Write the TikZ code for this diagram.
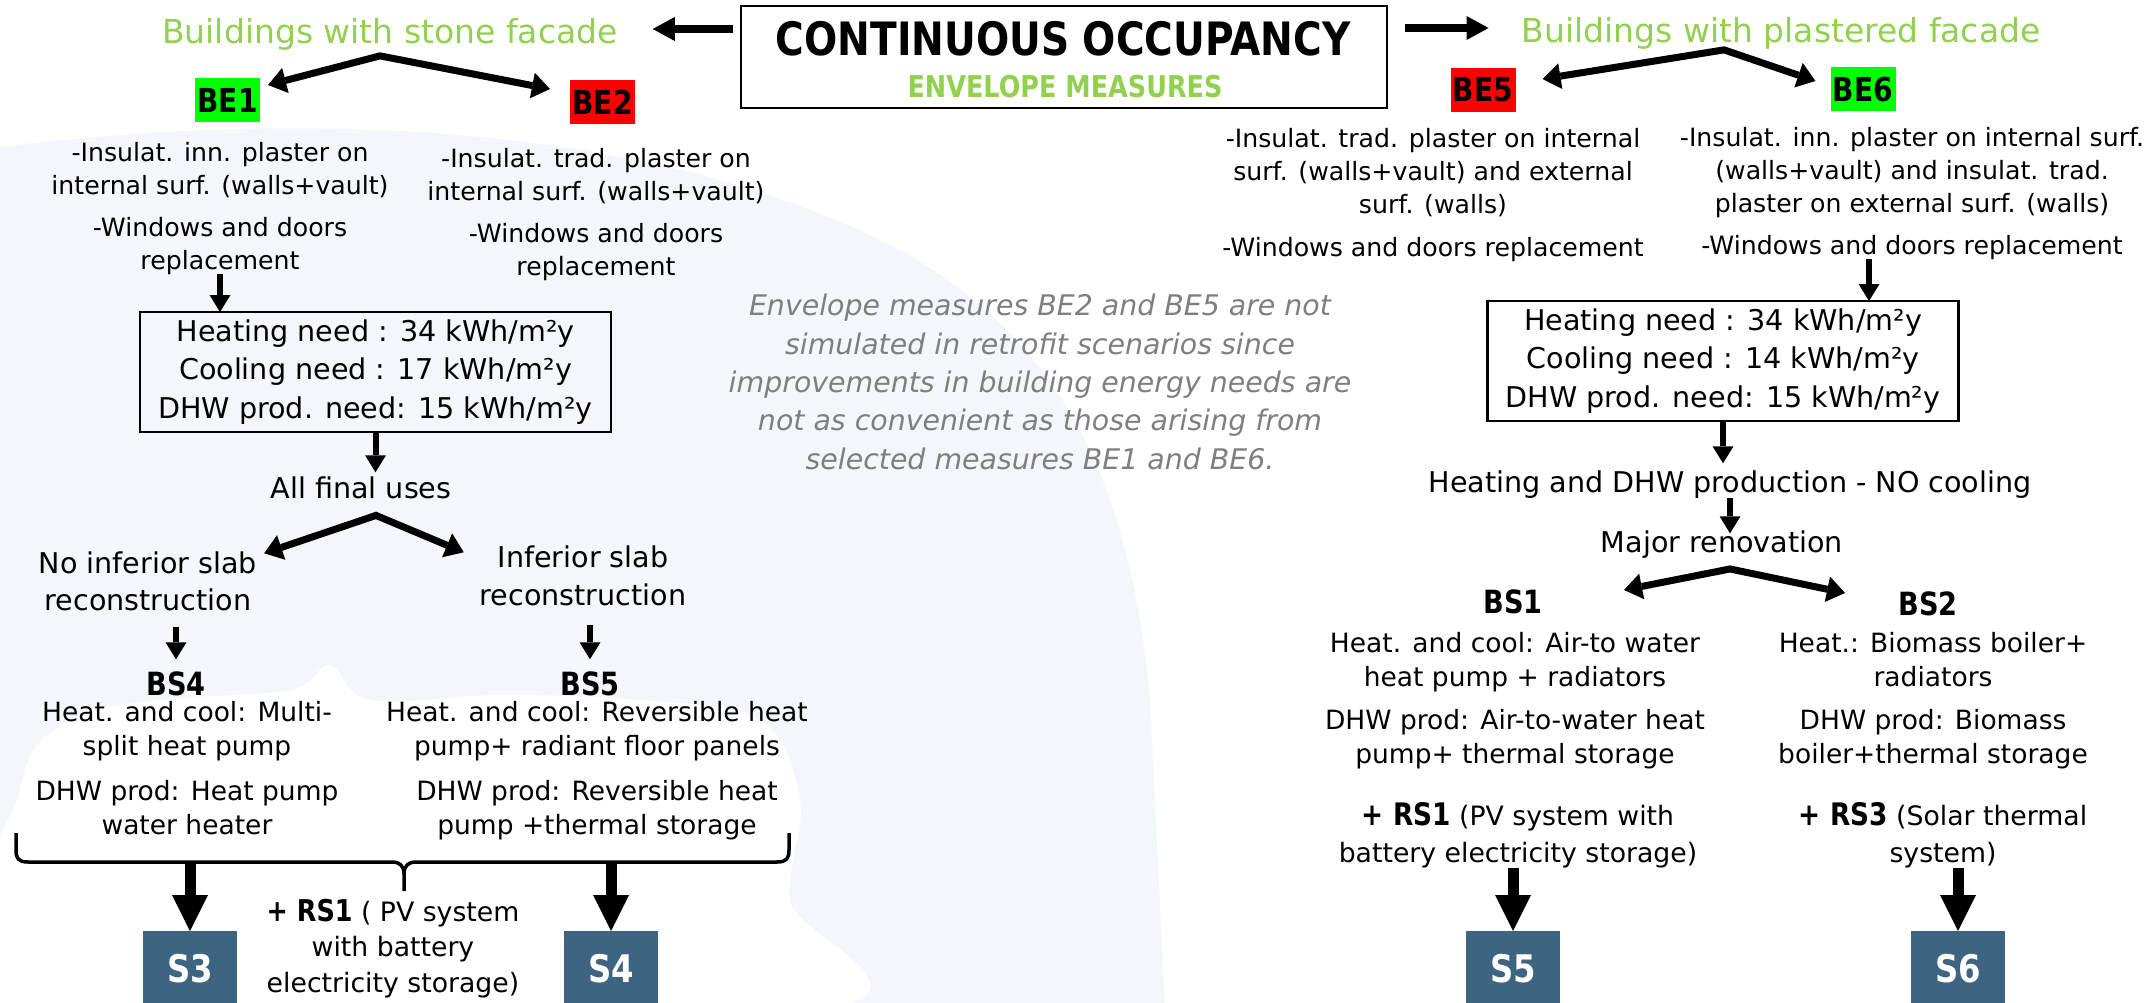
\documentclass[tikz,border=0pt]{standalone}
\usepackage{fontspec}
\setmainfont{DejaVu Sans}
\newfontfamily\cbf[FakeStretch=0.85]{DejaVu Sans}
\usetikzlibrary{arrows.meta,calc}
\definecolor{gtext}{HTML}{92D050}
\definecolor{gbox}{HTML}{00FF00}
\definecolor{rbox}{HTML}{FF0000}
\definecolor{sboxc}{HTML}{3D6480}
\definecolor{gray7}{HTML}{7F7F7F}
\definecolor{bgblue}{HTML}{F3F6FA}
\begin{document}
\begin{tikzpicture}[x=1pt,y=-1pt,
  every node/.style={inner sep=0pt, outer sep=0pt},
  txt/.style={align=center, anchor=base, font=\fontsize{25.2}{33}\selectfont},
  bstxt/.style={align=center, anchor=base, font=\fontsize{26.5}{34}\selectfont},
  midtxt/.style={align=center, anchor=base, font=\fontsize{28.6}{38}\selectfont},
  greentitle/.style={anchor=base, text=gtext, font=\fontsize{33}{40}\selectfont},
  belabel/.style={minimum width=65pt, minimum height=44pt, font=\cbf\bfseries\fontsize{33}{40}\selectfont},
  bslabel/.style={anchor=base, font=\cbf\bfseries\fontsize{32}{38}\selectfont},
  sbox/.style={fill=sboxc, text=white, minimum width=94pt, minimum height=76pt, font=\cbf\bfseries\fontsize{38}{44}\selectfont},
  needbox/.style={draw, line width=2.5pt, minimum width=471pt, minimum height=120pt, align=center, font=\fontsize{28.6}{38.5}\selectfont},
  arr/.style={line width=6pt, -{Triangle[length=17pt,width=21pt,line width=0pt]}},
  bigarr/.style={line width=11pt, -{Triangle[length=36pt,width=36pt,line width=0pt]}},
  toparr/.style={line width=8pt, -{Triangle[length=22pt,width=24pt,line width=0pt]}},
  fork/.style={line width=7pt, line join=miter, {Triangle[length=18pt,width=26pt,line width=0pt]}-{Triangle[length=18pt,width=26pt,line width=0pt]}},
  bracestyle/.style={line width=3.5pt, line join=round}
]
\useasboundingbox (0,0) rectangle (2154,1002);
% background
\fill[white] (0,0) rectangle (2154,1002);
\fill[bgblue] (0,147) .. controls (300,110) and (650,120) .. (900,250)
  .. controls (1060,340) and (1130,480) .. (1150,700) -- (1165,1010) -- (0,1010) -- cycle;
\fill[white] plot[smooth cycle, tension=0.6] coordinates {(20,1010) (20,790) (70,720) (160,700) (290,690) (330,665) (370,700) (500,695) (640,700) (760,720) (800,800) (790,900) (820,1010)};

% title
\node[draw, line width=2.5pt, minimum width=646pt, minimum height=102pt, fill=white] (title) at (1064,57) {};
\node[anchor=base, font=\cbf\bfseries\fontsize{46}{52}\selectfont] (ttl) at (1063,55) {CONTINUOUS OCCUPANCY};
\node[anchor=base, text=gtext, font=\cbf\bfseries\fontsize{30}{36}\selectfont] (env) at (1065,97) {ENVELOPE MEASURES};

\node[greentitle] (stone) at (390,43) {Buildings with stone facade};
\node[greentitle] (plast) at (1781,42) {Buildings with plastered facade};

\draw[toparr] ($(title.north west)+(-8,23)$) -- ($(title.north west -| stone.east)+(35,23)$);
\draw[toparr] ($(title.north east)+(18,22)$) -- ($(title.north east -| plast.west)+(-33,22)$);

% BE labels
\node[belabel, fill=gbox] (be1) at (227.5,100) {BE1};
\node[belabel, fill=rbox] (be2) at (602.5,102) {BE2};
\node[belabel, fill=rbox] (be5) at (1483,90) {BE5};
\node[belabel, fill=gbox] (be6) at (1863,89) {BE6};

\draw[fork] ($(be1.north east)+(8,7)$) -- ($(stone.south)+(-10,6)$) -- ($(be2.north west)+(-20,9)$);
\draw[fork] ($(be5.north east)+(27,11)$) -- ($(plast.south)+(-57,1)$) -- ($(be6.north west)+(-15,14)$);

% BE texts (anchor = baseline of last line)
\node[txt] (be1txt) at (220,269) {-Insulat. inn. plaster on\\internal surf. (walls+vault)\\[9pt]-Windows and doors\\replacement};
\node[txt] (be2txt) at (596,275) {-Insulat. trad. plaster on\\internal surf. (walls+vault)\\[9pt]-Windows and doors\\replacement};
\node[txt] (be5txt) at (1433,256) {-Insulat. trad. plaster on internal\\surf. (walls+vault) and external\\surf. (walls)\\[10pt]-Windows and doors replacement};
\node[txt] (be6txt) at (1912,254) {-Insulat. inn. plaster on internal surf.\\(walls+vault) and insulat. trad.\\plaster on external surf. (walls)\\[9pt]-Windows and doors replacement};

% need boxes
\node[needbox] (boxL) at (375.5,372) {Heating need : 34 kWh/m²y\\Cooling need : 17 kWh/m²y\\DHW prod. need: 15 kWh/m²y};
\node[needbox] (boxR) at (1723,361) {Heating need : 34 kWh/m²y\\Cooling need : 14 kWh/m²y\\DHW prod. need: 15 kWh/m²y};

\draw[arr] (be1txt.south) -- (be1txt.south |- boxL.north);
\coordinate (a6) at ($(be6txt.south)+(-43,0)$);
\draw[arr] (a6) -- (a6 |- boxR.north);

% note
\node[align=center, anchor=base, text=gray7, font=\fontsize{28.4}{38.3}\selectfont\itshape] (note) at (1040,469) {Envelope measures BE2 and BE5 are not\\simulated in retrofit scenarios since\\improvements in building energy needs are\\not as convenient as those arising from\\selected measures BE1 and BE6.};

% left chain
\node[midtxt] (all) at (361,498) {All final uses};
\draw[arr, shorten >=4pt] (boxL.south) -- (boxL.south |- all.north);
\node[midtxt, font=\fontsize{28.6}{37}\selectfont] (noinf) at (148,610) {No inferior slab\\reconstruction};
\node[midtxt, font=\fontsize{28.6}{38}\selectfont] (inf) at (583,605) {Inferior slab\\reconstruction};
\draw[fork] ($(noinf.north east)+(7,2)$) -- ($(all.south)+(15,17)$) -- ($(inf.north west)+(-16,7)$);

\node[bslabel] (bs4) at (176,695) {BS4};
\node[bslabel] (bs5) at (590,695) {BS5};
\draw[arr, shorten <=17pt, shorten >=12pt] (bs4.north |- noinf.south) -- (bs4.north);
\draw[arr, shorten <=20pt, shorten >=12pt] (bs5.north |- inf.south) -- (bs5.north);

\node[bstxt] (bs4txt) at (187,834) {Heat. and cool: Multi-\\split heat pump\\[11pt]DHW prod: Heat pump\\water heater};
\node[bstxt] (bs5txt) at (597,834) {Heat. and cool: Reversible heat\\pump+ radiant floor panels\\[11pt]DHW prod: Reversible heat\\pump +thermal storage};

% brace
\draw[bracestyle] (16,833) -- (16,850) .. controls (16,858) and (18,862) .. (28,862) -- (392,862)
  .. controls (400,862) and (404,866) .. (404,874) -- (404,891);
\draw[bracestyle] (404,874) .. controls (404,866) and (408,862) .. (416,862) -- (777,862)
  .. controls (787,862) and (789,858) .. (789,850) -- (789,833);
\coordinate (brc) at (404,862);

\node[sbox] (s3) at (190,969) {S3};
\node[sbox] (s4) at (611,969) {S4};
\draw[bigarr] (s3.north |- brc) -- (s3.north);
\draw[bigarr] (s4.north |- brc) -- (s4.north);
\node[align=center, anchor=base, font=\fontsize{26.7}{35.5}\selectfont] (rs1l) at (393,992) {{\cbf\bfseries\fontsize{30}{35.5}\selectfont + RS1} ( PV system\\with battery\\electricity storage)};

% right chain
\node[midtxt] (heatdhw) at (1730,492) {Heating and DHW production - NO cooling};
\node[midtxt] (major) at (1722,552) {Major renovation};
\draw[arr, shorten >=7pt] (boxR.south) -- (boxR.south |- heatdhw.north);
\draw[arr, shorten >=-3pt] (heatdhw.south) -- (heatdhw.south |- major.north);

\node[bslabel] (bs1) at (1513,613) {BS1};
\node[bslabel] (bs2) at (1928,615) {BS2};
\draw[fork] ($(major.south)+(-98,32)$) -- ($(major.south)+(8,11)$) -- ($(major.south)+(123,35)$);

\node[bstxt] (bs1txt) at (1515,763) {Heat. and cool: Air-to water\\heat pump + radiators\\[9pt]DHW prod: Air-to-water heat\\pump+ thermal storage};
\node[bstxt] (bs2txt) at (1933,763) {Heat.: Biomass boiler+\\radiators\\[9pt]DHW prod: Biomass\\boiler+thermal storage};

\node[align=center, anchor=base, font=\fontsize{26.7}{37}\selectfont] (rs1r) at (1518,862) {{\cbf\bfseries\fontsize{31}{37}\selectfont + RS1} (PV system with\\battery electricity storage)};
\node[align=center, anchor=base, font=\fontsize{26.7}{37}\selectfont] (rs3) at (1943,862) {{\cbf\bfseries\fontsize{31}{37}\selectfont + RS3} (Solar thermal\\system)};

\node[sbox] (s5) at (1513,969) {S5};
\node[sbox] (s6) at (1958,969) {S6};
\draw[bigarr] (s5.north |- rs1r.south) -- (s5.north);
\draw[bigarr] (s6.north |- rs3.south) -- (s6.north);
\end{tikzpicture}
\end{document}
